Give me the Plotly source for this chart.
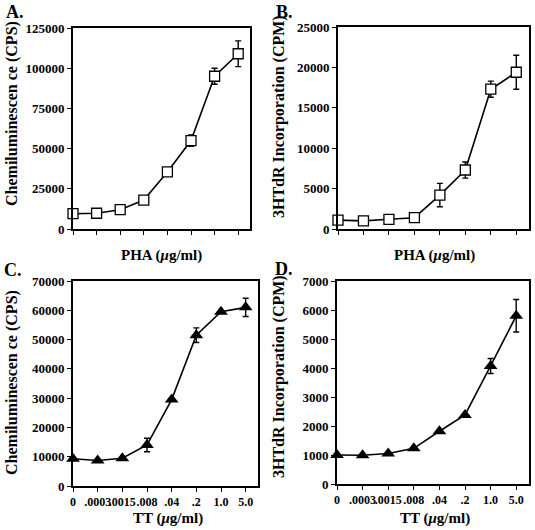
import plotly.graph_objects as go

# ---------------- data ----------------
pha_labels = ["1", "2", "3", "4", "5", "6", "7", "8"]
tt_labels = ["0", ".0003", ".0015", ".008", ".04", ".2", "1.0", "5.0"]

a_values = [9500, 9800, 12000, 18000, 35500, 55000, 95000, 109000]
a_errors = [0, 0, 0, 0, 0, 3500, 5000, 8000]

b_values = [1100, 1000, 1200, 1400, 4200, 7300, 17300, 19400]
b_errors = [0, 0, 0, 0, 1450, 1000, 1000, 2100]

c_values = [9300, 8700, 9500, 14000, 29500, 51500, 59500, 61000]
c_errors = [0, 0, 0, 2300, 0, 2500, 0, 3100]

d_values = [1000, 990, 1050, 1230, 1820, 2380, 4070, 5800]
d_errors = [0, 0, 0, 0, 0, 0, 260, 560]

FONT = "Liberation Serif"
W, H = 535, 530


def px_x(p):
    return p / W


def px_y(p):
    return 1 - p / H


fig = go.Figure()

panels = [
    ("x", "y", pha_labels, a_values, a_errors, "square-open", (73, 250), (28, 229), 125000, 25000, False),
    ("x2", "y2", pha_labels, b_values, b_errors, "square-open", (338, 529), (27, 229), 25000, 5000, False),
    ("x3", "y3", tt_labels, c_values, c_errors, "triangle-up", (73, 258), (281, 486), 70000, 10000, True),
    ("x4", "y4", tt_labels, d_values, d_errors, "triangle-up", (337, 529), (281, 484), 7000, 1000, True),
]

layout = dict(
    width=W, height=H,
    margin=dict(l=0, r=0, t=0, b=0, autoexpand=False),
    paper_bgcolor="white", plot_bgcolor="white",
    showlegend=False,
    font=dict(family=FONT, color="black"),
)

for i, (xa, ya, labels, vals, errs, sym, dx, dy, ymax, dtick, showlab) in enumerate(panels):
    idx = list(range(len(labels)))
    if sym == "square-open":
        marker = dict(symbol="square", size=10, color="white", line=dict(color="black", width=1.3))
    else:
        marker = dict(symbol="triangle-up", size=12, color="black", line=dict(color="black", width=0))
    fig.add_trace(go.Scatter(
        x=idx, y=vals, xaxis=xa, yaxis=ya,
        mode="lines+markers",
        line=dict(color="black", width=1.6),
        marker=marker,
        error_y=dict(type="data", array=errs, visible=True, color="black", thickness=1.4, width=3),
        cliponaxis=False,
    ))
    n = "" if i == 0 else str(i + 1)
    layout["xaxis" + n] = dict(
        domain=[px_x(dx[0]), px_x(dx[1])],
        anchor=ya,
        range=[0, 7.5],
        tickmode="array", tickvals=idx, ticktext=labels,
        showticklabels=showlab,
        ticks="outside", ticklen=4, tickwidth=1.4, tickcolor="black",
        showline=True, linecolor="black", linewidth=2, mirror=True,
        showgrid=False, zeroline=False, automargin=False,
        tickfont=dict(family=FONT, size=12, color="black", weight="bold"),
        tickangle=0,
    )
    layout["yaxis" + n] = dict(
        domain=[px_y(dy[1]), px_y(dy[0])],
        anchor=xa,
        range=[0, ymax], dtick=dtick, tickformat="d",
        ticks="outside", ticklen=4, tickwidth=1.4, tickcolor="black",
        showline=True, linecolor="black", linewidth=2, mirror=True,
        showgrid=False, zeroline=False, automargin=False,
        tickfont=dict(family=FONT, size=13, color="black", weight="bold"),
    )

fig.update_layout(**layout)

ann = []
for txt, x, y in [("A.", 4, 12), ("B.", 274, 12), ("C.", 2, 270), ("D.", 273, 269)]:
    ann.append(dict(text=txt, x=px_x(x), y=px_y(y), xref="paper", yref="paper",
                    xanchor="left", yanchor="middle", showarrow=False,
                    font=dict(family=FONT, size=18, weight="bold", color="black")))
for txt, x, y in [("Chemiluminescen ce (CPS)", 12, 114), ("3HTdR Incorporation (CPM)", 279, 117),
                  ("Chemiluminescen ce (CPS)", 12, 383), ("3HTdR Incorporation (CPM)", 279, 377)]:
    ann.append(dict(text=txt, x=px_x(x), y=px_y(y), xref="paper", yref="paper",
                    xanchor="center", yanchor="middle", textangle=-90, showarrow=False,
                    font=dict(family=FONT, size=16, weight="bold", color="black")))
for txt, x, y in [("PHA (<i>μ</i>g/ml)", 161, 255), ("PHA (<i>μ</i>g/ml)", 434, 255),
                  ("TT (<i>μ</i>g/ml)", 168, 518), ("TT (<i>μ</i>g/ml)", 435, 518)]:
    ann.append(dict(text=txt, x=px_x(x), y=px_y(y), xref="paper", yref="paper",
                    xanchor="center", yanchor="middle", showarrow=False,
                    font=dict(family=FONT, size=15, weight="bold", color="black")))
fig.update_layout(annotations=ann)

fig.write_html(
    "out.html",
    config={"displayModeBar": False},
    post_script="document.body.style.margin='0';document.body.style.padding='0';",
)
